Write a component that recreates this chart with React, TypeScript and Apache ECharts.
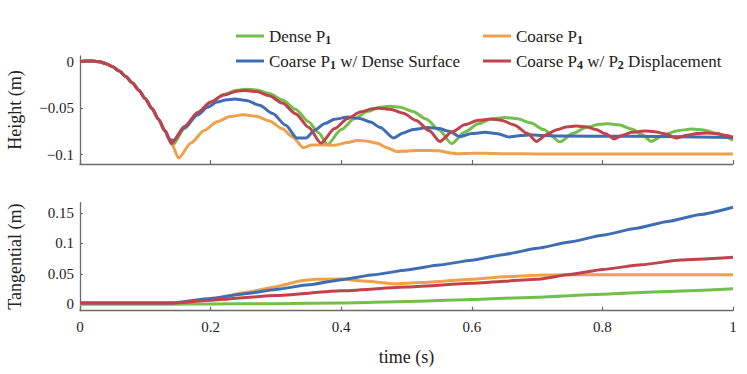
import React, { useEffect, useRef } from "react";
import * as echarts from "echarts";

// ---------- Data ----------
const seriesNames = [
  "Dense P\u2081",
  "Coarse P\u2081",
  "Coarse P\u2081 w/ Dense Surface",
  "Coarse P\u2084 w/ P\u2082 Displacement",
];
const legendLabels = [
  "Dense P{s|1}",
  "Coarse P{s|1}",
  "Coarse P{s|1} w/ Dense Surface",
  "Coarse P{s|4} w/ P{s|2} Displacement",
];
const colors = ["#74BE4C", "#EFA04A", "#3F6DB3", "#C0434C"];

const xTicks = [0, 0.2, 0.4, 0.6, 0.8, 1];
const heightTicks = [-0.1, -0.05, 0];
const tangentialTicks = [0, 0.05, 0.1, 0.15];

// Height (m) vs time (s)
const denseHeight: [number, number][] = [
  [0, 0], [0.01, 0.0005], [0.02, 0.0005], [0.03, -0.0003], [0.04, -0.0022], [0.05, -0.0056],
  [0.06, -0.0102], [0.07, -0.0159], [0.08, -0.0227], [0.09, -0.0307], [0.1, -0.0399],
  [0.11, -0.0502], [0.12, -0.0617], [0.13, -0.0743], [0.142, -0.0895],
  [0.16, -0.0719], [0.18, -0.056], [0.2, -0.0438], [0.22, -0.0353], [0.24, -0.0307], [0.255, -0.0296],
  [0.27, -0.0305], [0.29, -0.0343], [0.31, -0.0413], [0.33, -0.0513], [0.35, -0.0645], [0.365, -0.0763], [0.379, -0.089],
  [0.4, -0.073], [0.42, -0.0615], [0.44, -0.0535], [0.46, -0.049], [0.475, -0.048],
  [0.49, -0.049], [0.51, -0.0535], [0.53, -0.0617], [0.55, -0.0735], [0.569, -0.088],
  [0.59, -0.0754], [0.61, -0.0668], [0.63, -0.0617], [0.65, -0.06],
  [0.67, -0.0614], [0.69, -0.0658], [0.71, -0.073], [0.735, -0.0862],
  [0.755, -0.077], [0.775, -0.0707], [0.795, -0.0673], [0.808, -0.0667],
  [0.825, -0.0679], [0.845, -0.0725], [0.86, -0.0781], [0.875, -0.0857],
  [0.895, -0.0786], [0.915, -0.0742], [0.937, -0.0725],
  [0.955, -0.0735], [0.975, -0.077], [1.0, -0.0846],
];

const coarseHeight: [number, number][] = [
  [0, 0], [0.01, 0.0005], [0.02, 0.0005], [0.03, -0.0003], [0.04, -0.0022], [0.05, -0.0056],
  [0.06, -0.0102], [0.07, -0.0159], [0.08, -0.0227], [0.09, -0.0307], [0.1, -0.0399],
  [0.11, -0.0502], [0.12, -0.0617], [0.13, -0.0743], [0.14, -0.088], [0.151, -0.1035],
  [0.17, -0.0874], [0.19, -0.0741], [0.21, -0.0647], [0.23, -0.059], [0.25, -0.0571],
  [0.27, -0.0588], [0.29, -0.0638], [0.31, -0.0721], [0.325, -0.0806], [0.342, -0.0925],
  [0.355, -0.0897], [0.37, -0.0893], [0.39, -0.0898], [0.41, -0.087], [0.424, -0.0848],
  [0.44, -0.0855], [0.455, -0.0878], [0.47, -0.0925], [0.485, -0.0966], [0.5, -0.0962],
  [0.515, -0.0955], [0.535, -0.0955], [0.55, -0.0958], [0.565, -0.0978], [0.578, -0.099],
  [0.6, -0.0985], [0.62, -0.0984], [0.65, -0.099], [0.7, -0.0992], [0.8, -0.0992], [1.0, -0.0992],
];

const surfaceHeight: [number, number][] = [
  [0, 0], [0.01, 0.0005], [0.02, 0.0005], [0.03, -0.0003], [0.04, -0.0022], [0.05, -0.0056],
  [0.06, -0.0102], [0.07, -0.0159], [0.08, -0.0227], [0.09, -0.0307], [0.1, -0.0399],
  [0.11, -0.0502], [0.12, -0.0617], [0.13, -0.0743], [0.137, -0.0838], [0.143, -0.0846],
  [0.16, -0.071], [0.18, -0.0575], [0.195, -0.049], [0.21, -0.0435], [0.225, -0.041], [0.237, -0.0403],
  [0.255, -0.0418], [0.275, -0.047], [0.295, -0.0558], [0.315, -0.0684], [0.332, -0.082], [0.346, -0.082],
  [0.36, -0.0734], [0.375, -0.0665], [0.39, -0.0619], [0.411, -0.0596],
  [0.43, -0.0613], [0.445, -0.065], [0.46, -0.0709], [0.48, -0.082],
  [0.495, -0.0766], [0.51, -0.0729], [0.533, -0.0708],
  [0.55, -0.072], [0.565, -0.0749], [0.582, -0.0805],
  [0.6, -0.0772], [0.62, -0.076], [0.64, -0.0775], [0.657, -0.081],
  [0.675, -0.0795], [0.69, -0.0785], [0.71, -0.0795], [0.73, -0.08],
  [0.85, -0.0803], [1.0, -0.0815],
];

const p4Height: [number, number][] = [
  [0, 0], [0.01, 0.0005], [0.02, 0.0005], [0.03, -0.0003], [0.04, -0.0022], [0.05, -0.0056],
  [0.06, -0.0102], [0.07, -0.0159], [0.08, -0.0227], [0.09, -0.0307], [0.1, -0.0399],
  [0.11, -0.0502], [0.12, -0.0617], [0.13, -0.0743], [0.14, -0.088],
  [0.16, -0.0696], [0.18, -0.0548], [0.2, -0.0435], [0.22, -0.0359], [0.24, -0.0318], [0.253, -0.031],
  [0.27, -0.0322], [0.29, -0.0367], [0.31, -0.0446], [0.33, -0.0559], [0.35, -0.0705], [0.369, -0.0875],
  [0.39, -0.072], [0.41, -0.0611], [0.43, -0.0539], [0.45, -0.0504], [0.459, -0.05],
  [0.475, -0.0511], [0.495, -0.0555], [0.515, -0.0632], [0.535, -0.0744], [0.551, -0.0857],
  [0.57, -0.0754], [0.59, -0.0677], [0.61, -0.0631], [0.629, -0.0617],
  [0.645, -0.0629], [0.665, -0.068], [0.685, -0.0771], [0.699, -0.0857],
  [0.715, -0.0782], [0.73, -0.0732], [0.745, -0.0702], [0.76, -0.0692],
  [0.775, -0.0701], [0.79, -0.073], [0.805, -0.0776], [0.818, -0.0832],
  [0.83, -0.0793], [0.845, -0.076], [0.864, -0.0745],
  [0.88, -0.0753], [0.895, -0.0774], [0.914, -0.082],
  [0.93, -0.079], [0.945, -0.0773], [0.96, -0.0767],
  [0.975, -0.0775], [0.99, -0.0795], [1.0, -0.0812],
];

// Tangential (m) vs time (s)
const denseTangential: [number, number][] = [
  [0, 0.0003], [0.14, 0.0003], [0.2, 0.0005], [0.3, 0.001], [0.4, 0.0022], [0.5, 0.0045],
  [0.6, 0.0078], [0.7, 0.0118], [0.8, 0.0165], [0.9, 0.0212], [1.0, 0.0257],
];
const coarseTangential: [number, number][] = [
  [0, 0.002], [0.15, 0.002], [0.2, 0.0085], [0.26, 0.0207], [0.3, 0.029], [0.339, 0.0388],
  [0.36, 0.041], [0.4, 0.0415], [0.44, 0.0378], [0.48, 0.0338], [0.52, 0.0358], [0.6, 0.0412],
  [0.65, 0.0452], [0.7, 0.0478], [0.75, 0.0485], [1.0, 0.0485],
];
const surfaceTangential: [number, number][] = [
  [0, 0.002], [0.14, 0.002], [0.2, 0.0095], [0.25, 0.017], [0.3, 0.0245], [0.35, 0.032],
  [0.4, 0.0405], [0.45, 0.0485], [0.5, 0.0565], [0.55, 0.0645], [0.6, 0.0725], [0.65, 0.082],
  [0.7, 0.092], [0.75, 0.1025], [0.8, 0.1135], [0.85, 0.1245], [0.9, 0.136], [0.95, 0.1475], [1.0, 0.1595],
];
const p4Tangential: [number, number][] = [
  [0, 0.002], [0.14, 0.002], [0.2, 0.0068], [0.3, 0.0145], [0.4, 0.0222],
  [0.5, 0.0285], [0.6, 0.0345], [0.7, 0.041], [0.75, 0.049], [0.8, 0.0572], [0.86, 0.065],
  [0.92, 0.0728], [1.0, 0.0773],
];

const heightData = [denseHeight, coarseHeight, surfaceHeight, p4Height];
const tangentialData = [denseTangential, coarseTangential, surfaceTangential, p4Tangential];

// ---------- Styling ----------
const FONT = "'Liberation Serif', 'DejaVu Serif', serif";
const AXIS_COLOR = "#6a6a6a";
const TEXT_COLOR = "#222";

const fmt = (v: number) => String(Math.round(v * 1000) / 1000).replace("-", "\u2212");

export default function App() {
  const ref = useRef<HTMLDivElement>(null);

  useEffect(() => {
    document.body.style.margin = "0";
    if (!ref.current) return;
    const chart = echarts.init(ref.current, undefined, { renderer: "svg" });

    const axisLine = { show: true, onZero: false, lineStyle: { color: AXIS_COLOR, width: 1.3 } };
    const labelStyle = { color: TEXT_COLOR, fontFamily: FONT, fontSize: 15 };

    const legendPos = [
      { left: 236, top: 26 },
      { left: 483, top: 26 },
      { left: 236, top: 51 },
      { left: 483, top: 51 },
    ];

    const series: any[] = [];
    seriesNames.forEach((name, i) => {
      series.push({
        name,
        type: "line",
        xAxisIndex: 0,
        yAxisIndex: 0,
        data: heightData[i],
        showSymbol: false,
        smooth: 0.25,
        smoothMonotone: "x",
        lineStyle: { color: colors[i], width: 3 },
        itemStyle: { color: colors[i] },
        z: 2 + i,
      });
    });
    seriesNames.forEach((name, i) => {
      series.push({
        name,
        type: "line",
        xAxisIndex: 1,
        yAxisIndex: 1,
        data: tangentialData[i],
        showSymbol: false,
        smooth: 0.15,
        smoothMonotone: "x",
        lineStyle: { color: colors[i], width: 3 },
        itemStyle: { color: colors[i] },
        z: 2 + i,
      });
    });

    chart.setOption({
      animation: false,
      backgroundColor: "#fff",
      grid: [
        { left: 80, width: 653, top: 56, height: 108 },
        { left: 80, width: 653, top: 202.7, height: 108 },
      ],
      legend: seriesNames.map((name, i) => ({
        data: [name],
        left: legendPos[i].left,
        top: legendPos[i].top,
        icon: "rect",
        itemWidth: 28,
        itemHeight: 3,
        padding: 0,
        selectedMode: false,
        formatter: () => legendLabels[i],
        textStyle: {
          color: TEXT_COLOR,
          fontFamily: FONT,
          fontSize: 17,
          lineHeight: 20,
          rich: {
            s: {
              fontFamily: FONT,
              fontSize: 12,
              fontWeight: "bold",
              lineHeight: 12,
              verticalAlign: "bottom",
              color: TEXT_COLOR,
            },
          },
        },
      })),
      xAxis: [0, 1].map((gi) => ({
        type: "value",
        gridIndex: gi,
        min: 0,
        max: 1,
        interval: 0.2,
        axisLine,
        axisTick: { show: true, inside: true, length: 4, lineStyle: { color: AXIS_COLOR, width: 1.2 } },
        axisLabel: {
          show: gi === 1,
          ...labelStyle,
          margin: 9,
          customValues: xTicks,
          formatter: fmt,
        },
        splitLine: { show: false },
      })),
      yAxis: [
        {
          type: "value",
          gridIndex: 0,
          min: -0.11,
          max: 0.006,
          axisLine,
          axisTick: {
            show: true,
            inside: true,
            length: 3,
            customValues: heightTicks,
            lineStyle: { color: AXIS_COLOR, width: 1.2 },
          },
          axisLabel: { ...labelStyle, margin: 6, customValues: heightTicks, formatter: fmt },
          splitLine: { show: false },
        },
        {
          type: "value",
          gridIndex: 1,
          min: -0.0105,
          max: 0.167,
          axisLine,
          axisTick: {
            show: true,
            inside: true,
            length: 3,
            customValues: tangentialTicks,
            lineStyle: { color: AXIS_COLOR, width: 1.2 },
          },
          axisLabel: { ...labelStyle, margin: 6, customValues: tangentialTicks, formatter: fmt },
          splitLine: { show: false },
        },
      ],
      graphic: [
        {
          type: "text",
          x: 14.5,
          y: 110,
          rotation: Math.PI / 2,
          style: {
            text: "Height (m)",
            fontFamily: FONT,
            fontSize: 18,
            fill: TEXT_COLOR,
            align: "center",
            verticalAlign: "middle",
          },
        },
        {
          type: "text",
          x: 14.5,
          y: 256.7,
          rotation: Math.PI / 2,
          style: {
            text: "Tangential (m)",
            fontFamily: FONT,
            fontSize: 18,
            fill: TEXT_COLOR,
            align: "center",
            verticalAlign: "middle",
          },
        },
        {
          type: "text",
          x: 406.5,
          y: 357,
          style: {
            text: "time (s)",
            fontFamily: FONT,
            fontSize: 18,
            fill: TEXT_COLOR,
            align: "center",
            verticalAlign: "middle",
          },
        },
      ],
      series,
    });

    return () => chart.dispose();
  }, []);

  return <div ref={ref} style={{ width: 747, height: 374 }} />;
}
